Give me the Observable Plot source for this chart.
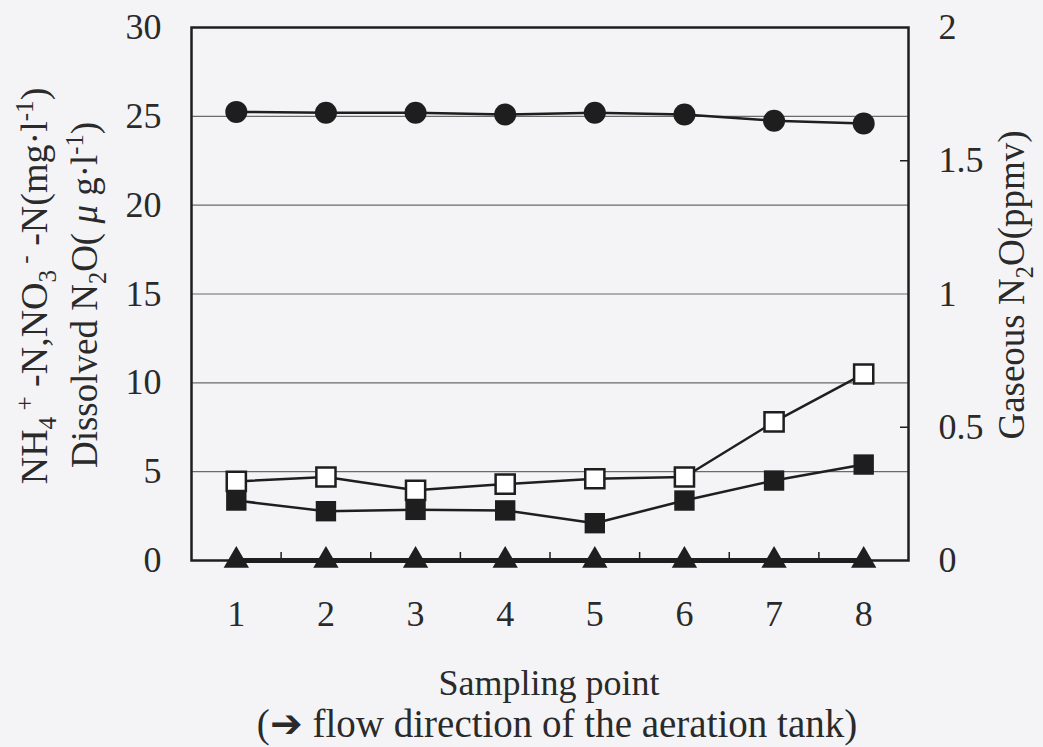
<!DOCTYPE html>
<html>
<head>
<meta charset="utf-8">
<script src="https://cdn.jsdelivr.net/npm/d3@7"></script>
<script src="https://cdn.jsdelivr.net/npm/@observablehq/plot@0.6"></script>
<style>
  html, body { margin: 0; padding: 0; background: #f4f4f7; }
  #chart svg { display: block; }
</style>
</head>
<body>
<div id="chart"></div>
<script>
// Sampling points along the aeration tank
const samplingPoints = [1, 2, 3, 4, 5, 6, 7, 8];

// Left-axis series (mg·l⁻¹ / μg·l⁻¹)
const no3N         = [25.25, 25.2, 25.2, 25.1, 25.2, 25.1, 24.75, 24.6];
const nh4N         = [0, 0, 0, 0, 0, 0, 0, 0];
const dissolvedN2O = [4.45, 4.7, 3.95, 4.3, 4.6, 4.7, 7.8, 10.5];

// Right-axis series (ppmv)
const gaseousN2O   = [0.225, 0.185, 0.19, 0.188, 0.14, 0.225, 0.30, 0.36];

// Axis ticks
const leftTicks  = [0, 5, 10, 15, 20, 25, 30];
const rightTicks = [0, 0.5, 1, 1.5, 2];
const gridValues = [5, 10, 15, 20, 25];

// Right axis 0–2 ppmv shares the frame with left axis 0–30
const rightToLeft = 30 / 2;

const ink = "#1e1e1e";
const font = "'Liberation Serif', 'Times New Roman', serif";

const rows = samplingPoints.map((p, i) => ({
  p,
  no3: no3N[i],
  nh4: nh4N[i],
  dn2o: dissolvedN2O[i],
  gn2o: gaseousN2O[i] * rightToLeft
}));

const boundaries = samplingPoints.slice(0, -1).map(p => p + 0.5);

const W = 1043, H = 747;
const mL = 191, mR = 135, mT = 27, mB = 187;
const frameW = W - mL - mR, frameH = H - mT - mB;

const chart = Plot.plot({
  width: W,
  height: H,
  marginLeft: mL,
  marginRight: mR,
  marginTop: mT,
  marginBottom: mB,
  style: { background: "transparent", fontFamily: font, fontSize: "36px", color: "#2a2a2a" },
  x: { domain: [0.5, 8.5], label: null },
  y: { domain: [0, 30], label: null },
  marks: [
    // horizontal gridlines
    Plot.ruleY(gridValues, { stroke: "#6a6a6a", strokeWidth: 1.2 }),
    // inner ticks between sampling points
    Plot.ruleX(boundaries, { stroke: ink, strokeWidth: 1.5, insetTop: frameH - 8 }),
    // inner ticks on the right axis at 0.5 and 1.5
    Plot.ruleY([0.5, 1.5].map(v => v * rightToLeft), { stroke: ink, strokeWidth: 1.5, insetLeft: frameW - 8 }),
    Plot.frame({ stroke: ink, strokeWidth: 2.5 }),
    Plot.axisY(leftTicks, { anchor: "left", tickSize: 0, tickPadding: 30, label: null, fontSize: 36 }),
    Plot.axisY(rightTicks.map(v => v * rightToLeft), {
      anchor: "right", tickSize: 0, tickPadding: 30, label: null, fontSize: 36,
      tickFormat: d => String(+(d / rightToLeft).toFixed(2))
    }),
    Plot.axisX(samplingPoints, { anchor: "bottom", tickSize: 0, tickPadding: 40, label: null, fontSize: 36 }),

    // series lines
    Plot.line(rows, { x: "p", y: "no3", stroke: ink, strokeWidth: 2.5 }),
    Plot.line(rows, { x: "p", y: "dn2o", stroke: ink, strokeWidth: 2.5 }),
    Plot.line(rows, { x: "p", y: "gn2o", stroke: ink, strokeWidth: 2.5 }),
    Plot.line(rows, { x: "p", y: "nh4", stroke: ink, strokeWidth: 5 }),

    // series markers
    Plot.dot(rows, { x: "p", y: "no3", symbol: "circle", r: 11, fill: ink, stroke: "none" }),
    Plot.dot(rows, { x: "p", y: "dn2o", symbol: "square", r: 10.8, fill: "#ffffff", stroke: ink, strokeWidth: 2.5 }),
    Plot.dot(rows, { x: "p", y: "gn2o", symbol: "square", r: 11.5, fill: ink, stroke: "none" }),
    Plot.dot(rows, { x: "p", y: "nh4", symbol: "triangle", r: 9.4, fill: ink, stroke: "none" })
  ]
});

document.getElementById("chart").appendChild(chart);

// Axis titles with sub/superscripts
const svg = d3.select(chart);
const titles = svg.append("g")
  .attr("font-family", font)
  .attr("fill", "#2a2a2a");

function richText(g, x, y, rotate, parts, size) {
  const t = g.append("text")
    .attr("transform", `translate(${x},${y})` + (rotate ? " rotate(-90)" : ""))
    .attr("text-anchor", "middle")
    .attr("font-size", size);
  let shift = 0;
  for (const part of parts) {
    const [str, kind] = Array.isArray(part) ? part : [part, null];
    const ts = t.append("tspan").text(str);
    let target = 0, fs = size;
    if (kind === "sub") { target = size * 0.24; fs = size * 0.66; }
    if (kind === "sup") { target = -size * 0.38; fs = size * 0.66; }
    if (kind === "it") { ts.attr("font-style", "italic"); }
    ts.attr("font-size", fs).attr("dy", target - shift);
    shift = target;
  }
  return t;
}

richText(titles, 47, 286, true, [
  "NH", ["4", "sub"], [" +", "sup"], " -N,NO", ["3", "sub"], [" -", "sup"], " -N(mg·l", ["-1", "sup"], ")"
], 38);

richText(titles, 97, 295, true, [
  "Dissolved N", ["2", "sub"], "O( ", ["μ", "it"], " g·l", ["-1", "sup"], ")"
], 37);

richText(titles, 1024, 285, true, [
  "Gaseous N", ["2", "sub"], "O(ppmv)"
], 37);

richText(titles, 549, 695, false, ["Sampling point"], 36);
richText(titles, 557, 737, false, ["(➔ flow direction of the aeration tank)"], 39);
</script>
</body>
</html>
